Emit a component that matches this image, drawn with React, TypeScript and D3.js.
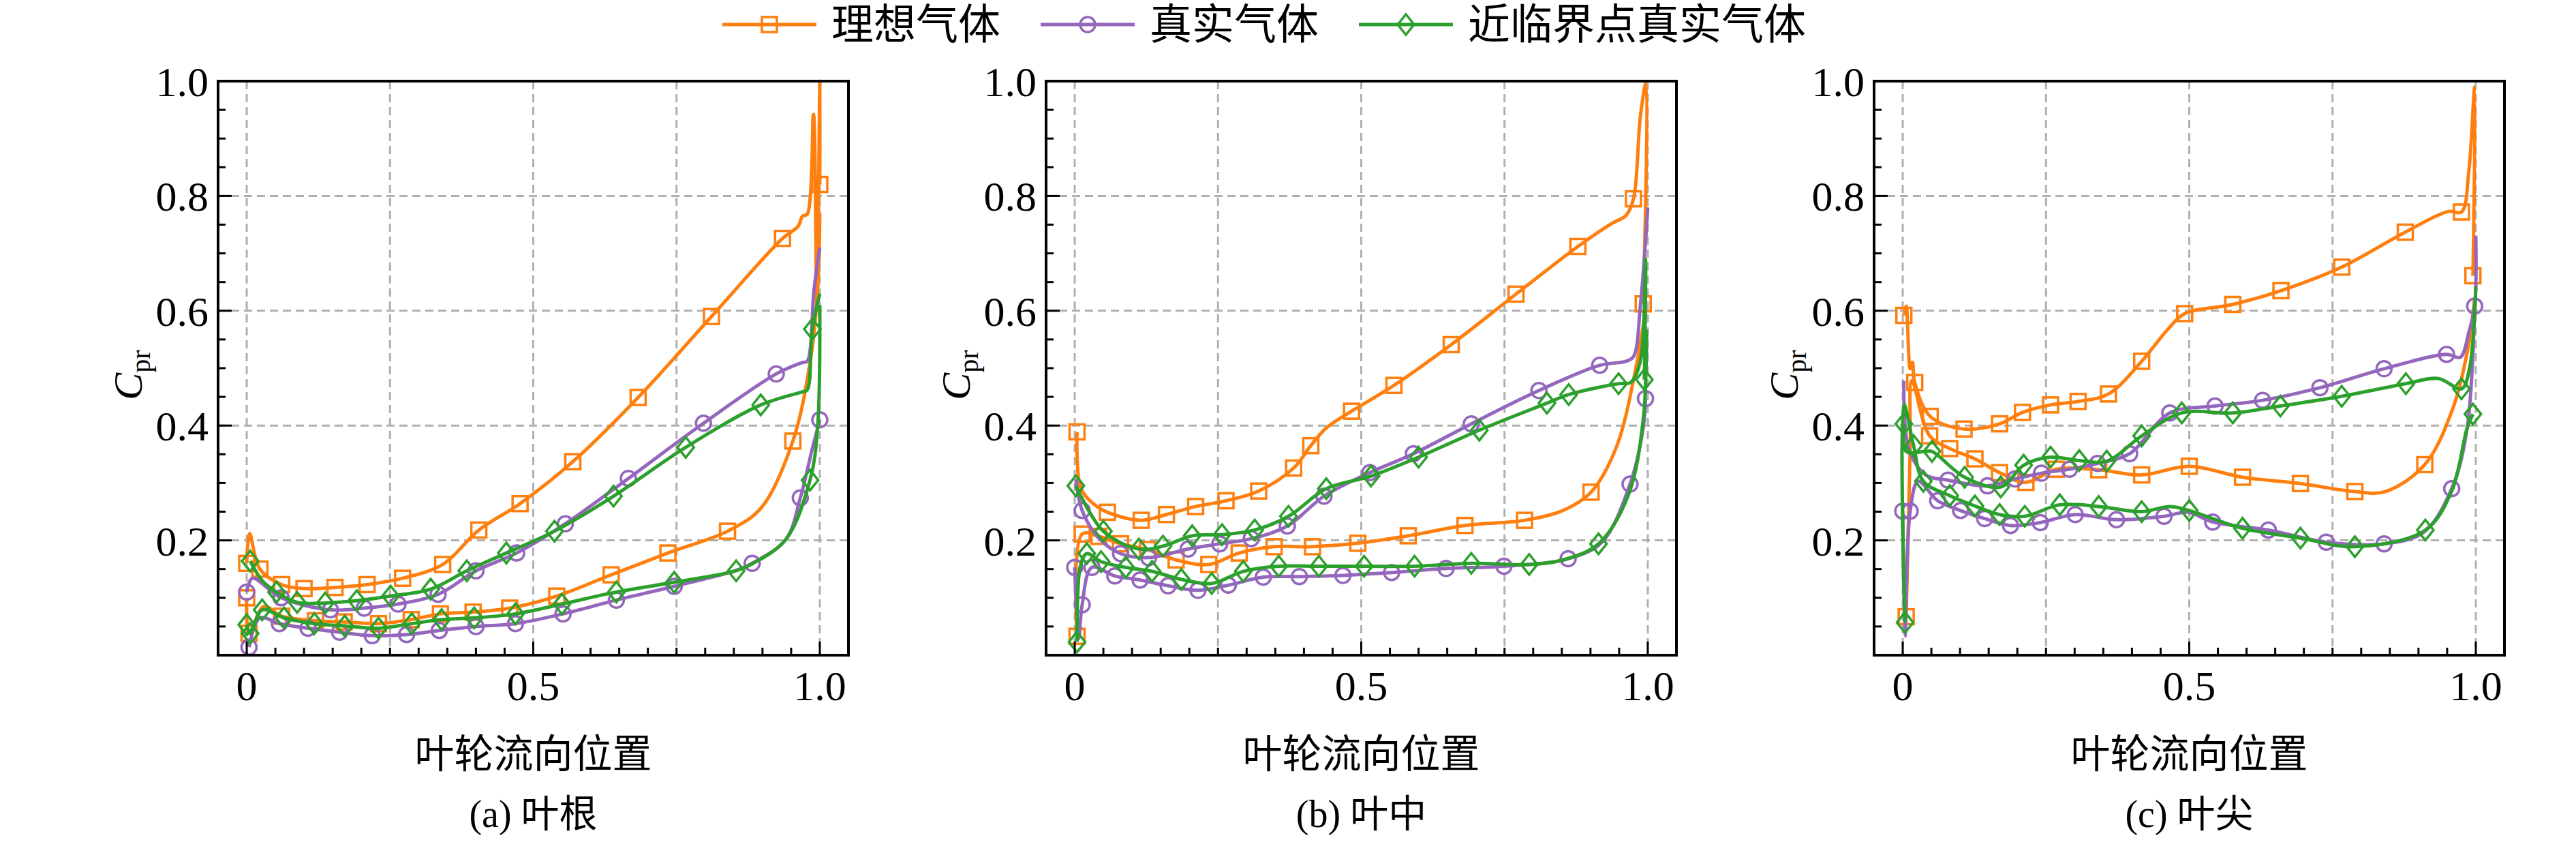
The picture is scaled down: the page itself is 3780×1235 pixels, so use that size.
import * as d3 from "d3";

type P = [number, number, number];

// panel (a) 叶根
const aIdealUp: P[] = [[0,.16,1],[.005,.212,0],[.023,.15,1],[.061,.123,1],[.1,.116,1],[.154,.118,1],[.21,.123,1],[.272,.134,1],[.342,.158,1],[.405,.218,1],[.477,.264,1],[.569,.337,1],[.683,.449,1],[.811,.59,1],[.935,.726,1],[.962,.747,0],[.97,.765,0],[.978,.768,0],[.989,.942,0],[.995,.6,0],[1,1,0],[1,.82,1]];
const aIdealLow: P[] = [[0,.1,1],[.004,.038,1],[.03,.085,0],[.061,.068,1],[.12,.06,1],[.17,.058,1],[.23,.055,1],[.287,.062,1],[.338,.072,1],[.395,.075,1],[.459,.082,1],[.541,.103,1],[.636,.14,1],[.735,.178,1],[.839,.216,1],[.898,.257,0],[.953,.373,1],[.983,.51,0],[.996,.633,0],[1,.77,0]];
const aRealUp: P[] = [[0,.11,1],[.01,.134,0],[.06,.1,1],[.146,.079,1],[.205,.082,1],[.264,.089,1],[.334,.106,1],[.4,.147,1],[.471,.178,1],[.556,.229,1],[.666,.308,1],[.797,.404,1],[.924,.49,1],[.97,.51,0],[.978,.512,0],[.99,.637,0],[1,.71,0]];
const aRealLow: P[] = [[.004,.014,1],[.023,.065,0],[.057,.055,1],[.107,.047,1],[.162,.04,1],[.219,.034,1],[.279,.036,1],[.336,.043,1],[.4,.05,1],[.469,.055,1],[.552,.072,1],[.645,.096,1],[.746,.12,1],[.852,.147,0],[.882,.16,1],[.941,.202,0],[.966,.274,1],[.987,.36,0],[1,.41,1]];
const aNearUp: P[] = [[.006,.164,1],[.027,.13,0],[.052,.11,1],[.088,.092,1],[.137,.091,1],[.192,.095,1],[.251,.103,1],[.321,.115,1],[.384,.147,1],[.453,.178,1],[.537,.216,1],[.64,.277,1],[.766,.362,1],[.897,.436,1],[.97,.459,0],[.978,.462,0],[.987,.568,1],[1,.63,0]];
const aNearLow: P[] = [[0,.053,1],[.006,.038,1],[.027,.079,1],[.065,.065,1],[.118,.055,1],[.171,.051,1],[.23,.047,1],[.288,.055,1],[.34,.062,1],[.397,.065,1],[.469,.072,1],[.55,.089,1],[.645,.11,1],[.746,.127,1],[.854,.147,1],[.882,.159,0],[.941,.202,0],[.983,.305,1],[.996,.394,0],[1,.61,0]];

// panel (b) 叶中
const bIdealUp: P[] = [[.004,.389,1],[.01,.293,0],[.03,.266,0],[.057,.249,1],[.116,.235,1],[.16,.245,1],[.211,.259,1],[.264,.269,1],[.321,.286,1],[.382,.326,1],[.412,.365,1],[.439,.396,0],[.483,.425,1],[.557,.47,1],[.657,.541,1],[.77,.629,1],[.878,.712,1],[.937,.752,0],[.962,.766,0],[.975,.795,1],[.987,.938,0],[.997,.997,0],[.992,.612,1]];
const bIdealLow: P[] = [[.004,.033,1],[.013,.211,1],[.042,.207,1],[.08,.194,1],[.127,.184,1],[.177,.166,1],[.234,.158,1],[.287,.178,1],[.348,.189,1],[.415,.189,1],[.494,.195,1],[.582,.208,1],[.681,.226,1],[.785,.235,1],[.852,.252,0],[.901,.284,1],[.945,.362,0],[.979,.499,0],[.996,.601,0]];
const bRealUp: P[] = [[.002,.307,0],[.013,.252,1],[.042,.204,0],[.08,.177,1],[.129,.17,1],[.198,.185,1],[.253,.194,1],[.308,.203,1],[.371,.225,1],[.435,.277,1],[.515,.318,1],[.591,.351,1],[.692,.403,1],[.81,.461,1],[.916,.505,1],[.962,.512,0],[.975,.52,0],[.987,.608,0],[1,.78,0]];
const bRealLow: P[] = [[0,.153,1],[.007,.029,0],[.013,.088,1],[.03,.153,1],[.07,.138,1],[.114,.131,1],[.163,.121,1],[.215,.113,1],[.268,.122,1],[.329,.136,1],[.392,.137,1],[.468,.139,1],[.553,.144,1],[.648,.151,1],[.749,.155,1],[.861,.168,1],[.92,.197,0],[.969,.298,1],[.992,.396,0],[.996,.447,1]];
const bNearUp: P[] = [[.002,.295,1],[.05,.216,1],[.112,.185,1],[.154,.19,1],[.205,.208,1],[.257,.21,1],[.314,.218,1],[.373,.242,1],[.439,.29,1],[.517,.312,1],[.6,.345,1],[.706,.392,1],[.824,.439,1],[.862,.454,1],[.949,.473,1],[.97,.475,0],[.987,.512,0],[.996,.69,0],[.994,.48,1]];
const bNearLow: P[] = [[.004,.023,1],[.01,.156,0],[.021,.177,1],[.046,.163,1],[.089,.153,1],[.135,.146,1],[.186,.132,1],[.239,.125,1],[.294,.146,1],[.356,.155,1],[.426,.155,1],[.505,.155,1],[.593,.155,1],[.692,.16,1],[.793,.158,1],[.852,.166,0],[.914,.194,1],[.966,.279,0],[.992,.41,0],[.998,.567,0]];

// panel (c) 叶尖
const cIdealUp: P[] = [[.002,.592,1],[.006,.608,0],[.013,.499,0],[.017,.51,0],[.021,.475,1],[.048,.416,1],[.107,.394,1],[.169,.403,1],[.209,.423,1],[.258,.436,1],[.306,.442,1],[.359,.455,1],[.417,.512,1],[.462,.567,0],[.492,.595,1],[.576,.611,1],[.66,.635,1],[.766,.676,1],[.877,.737,1],[.952,.773,0],[.975,.772,1],[.988,.845,0],[.998,.99,0],[.995,.661,1]];
const cIdealLow: P[] = [[.006,.067,1],[.013,.362,0],[.016,.478,0],[.047,.382,1],[.082,.36,1],[.126,.342,1],[.169,.318,1],[.215,.301,1],[.268,.324,1],[.342,.323,1],[.417,.314,1],[.5,.329,1],[.593,.31,1],[.694,.299,1],[.789,.285,1],[.842,.285,0],[.911,.332,1],[.96,.43,0],[.986,.533,0],[.998,.622,0]];
const cRealUp: P[] = [[.002,.478,0],[.01,.362,0],[.04,.314,0],[.079,.305,1],[.148,.295,1],[.196,.307,1],[.242,.317,1],[.291,.324,1],[.34,.334,1],[.396,.351,1],[.466,.422,1],[.545,.434,1],[.628,.444,1],[.728,.466,1],[.84,.499,1],[.949,.524,1],[.973,.519,0],[.988,.563,0],[.998,.608,1],[1,.731,0]];
const cRealLow: P[] = [[0,.251,1],[.004,.033,0],[.013,.251,1],[.027,.303,0],[.061,.269,1],[.101,.252,1],[.143,.238,1],[.188,.226,1],[.24,.231,1],[.301,.245,1],[.373,.236,1],[.456,.242,1],[.498,.249,0],[.541,.232,1],[.638,.218,1],[.739,.197,1],[.84,.194,1],[.909,.214,0],[.958,.29,1],[.985,.396,0],[.998,.608,0]];
const cNearUp: P[] = [[.002,.403,1],[.006,.355,0],[.04,.355,0],[.051,.355,1],[.108,.31,1],[.171,.293,1],[.211,.331,1],[.258,.345,1],[.308,.339,1],[.356,.338,1],[.417,.382,1],[.487,.422,1],[.576,.422,1],[.659,.434,1],[.766,.451,1],[.878,.473,1],[.935,.482,0],[.975,.464,1],[.989,.499,0],[1,.642,0]];
const cNearLow: P[] = [[.004,.057,1],[.002,.437,0],[.019,.365,1],[.036,.303,1],[.082,.278,1],[.126,.26,1],[.169,.245,1],[.213,.242,1],[.274,.262,1],[.342,.259,1],[.417,.25,1],[.466,.259,0],[.5,.252,1],[.593,.221,1],[.694,.204,1],[.789,.189,1],[.912,.218,1],[.958,.286,0],[.985,.396,0],[.995,.42,1]];

const seriesNames = ["理想气体", "真实气体", "近临界点真实气体"];
const colors = ["#ff7f0e", "#9467bd", "#2ca02c"];
const markers = ["square", "circle", "diamond"];
const panelTitles = ["(a) 叶根", "(b) 叶中", "(c) 叶尖"];
const panels: P[][][][] = [
  [[aIdealUp, aIdealLow], [aRealUp, aRealLow], [aNearUp, aNearLow]],
  [[bIdealUp, bIdealLow], [bRealUp, bRealLow], [bNearUp, bNearLow]],
  [[cIdealUp, cIdealLow], [cRealUp, cRealLow], [cNearUp, cNearLow]],
];
const xTicks = [0, 0.5, 1.0];
const yTicks = [0.2, 0.4, 0.6, 0.8, 1.0];

const W = 3780, H = 1235;
const panelLeft = [320, 1535, 2750];
const PW = 925, TOP = 119, BOT = 961;
const serif = "'Liberation Serif', 'Noto Sans CJK SC', serif";

function Marker({ kind, x, y, color }: { kind: string; x: number; y: number; color: string }) {
  const common = { fill: "none", stroke: color, strokeWidth: 3.5 };
  if (kind === "square") return <rect x={x - 11} y={y - 11} width={22} height={22} {...common} />;
  if (kind === "circle") return <circle cx={x} cy={y} r={11} {...common} />;
  return <path d={`M${x},${y - 15}L${x + 12},${y}L${x},${y + 15}L${x - 12},${y}Z`} {...common} />;
}

function Panel({ idx }: { idx: number }) {
  const L = panelLeft[idx];
  const x = d3.scaleLinear().domain([-0.05, 1.05]).range([L, L + PW]);
  const y = d3.scaleLinear().domain([0, 1]).range([BOT, TOP]);
  const line = d3.line<P>().x((d) => x(d[0])).y((d) => y(d[1])).curve(d3.curveCatmullRom.alpha(0.5));
  const minorX = d3.range(0, 1.001, 0.05).map((v) => +v.toFixed(2));
  const minorY = d3.range(0.05, 1, 0.05).map((v) => +v.toFixed(2));
  const gridX = [0, 0.25, 0.5, 0.75, 1.0];
  const gridY = [0.2, 0.4, 0.6, 0.8];
  const cx = L + PW / 2;
  return (
    <g>
      {gridX.map((v) => (
        <line key={"gx" + v} x1={x(v)} x2={x(v)} y1={TOP} y2={BOT} stroke="#b0b0b0" strokeWidth={3} strokeDasharray="12,7" />
      ))}
      {gridY.map((v) => (
        <line key={"gy" + v} x1={L} x2={L + PW} y1={y(v)} y2={y(v)} stroke="#b0b0b0" strokeWidth={3} strokeDasharray="12,7" />
      ))}
      {panels[idx].map((pair, si) => (
        <g key={si}>
          {pair.map((pts, k) => (
            <g key={k}>
              <path d={line(pts) || ""} fill="none" stroke={colors[si]} strokeWidth={5} strokeLinejoin="round" />
              {pts.filter((p) => p[2]).map((p, j) => (
                <Marker key={j} kind={markers[si]} x={x(p[0])} y={y(p[1])} color={colors[si]} />
              ))}
            </g>
          ))}
        </g>
      ))}
      <rect x={L} y={TOP} width={PW} height={BOT - TOP} fill="none" stroke="#000" strokeWidth={4} />
      {minorX.map((v) => (
        <line key={"mx" + v} x1={x(v)} x2={x(v)} y1={BOT} y2={BOT - (xTicks.includes(v) ? 20 : 11)} stroke="#000" strokeWidth={3} />
      ))}
      {minorY.map((v) => (
        <line key={"my" + v} x1={L} x2={L + (yTicks.includes(v) ? 20 : 11)} y1={y(v)} y2={y(v)} stroke="#000" strokeWidth={3} />
      ))}
      {xTicks.map((v) => (
        <text key={"xt" + v} x={x(v)} y={1027} textAnchor="middle" fontFamily={serif} fontSize={62}>
          {v === 0 ? "0" : v.toFixed(1)}
        </text>
      ))}
      {yTicks.map((v) => (
        <text key={"yt" + v} x={L - 14} y={y(v) + 22} textAnchor="end" fontFamily={serif} fontSize={62}>
          {v.toFixed(1)}
        </text>
      ))}
      <text transform={`translate(${L - 112},${(TOP + BOT) / 2 + 10}) rotate(-90)`} textAnchor="middle" fontFamily={serif} fontSize={60}>
        <tspan fontStyle="italic">C</tspan>
        <tspan fontSize={40} dy={12}>pr</tspan>
      </text>
      <text x={cx} y={1126} textAnchor="middle" fontFamily={serif} fontSize={58}>叶轮流向位置</text>
      <text x={cx} y={1213} textAnchor="middle" fontFamily={serif} fontSize={56}>{panelTitles[idx]}</text>
    </g>
  );
}

export default function App() {
  const legendX = [1060, 1527, 1994];
  return (
    <svg width={W} height={H} style={{ position: "absolute", left: 0, top: 0, background: "#fff" }}>
      {[0, 1, 2].map((i) => <Panel key={i} idx={i} />)}
      {seriesNames.map((n, i) => (
        <g key={n}>
          <line x1={legendX[i]} x2={legendX[i] + 138} y1={36} y2={36} stroke={colors[i]} strokeWidth={5} />
          <Marker kind={markers[i]} x={legendX[i] + 69} y={36} color={colors[i]} />
          <text x={legendX[i] + 160} y={58} fontFamily={serif} fontSize={62}>{n}</text>
        </g>
      ))}
    </svg>
  );
}
